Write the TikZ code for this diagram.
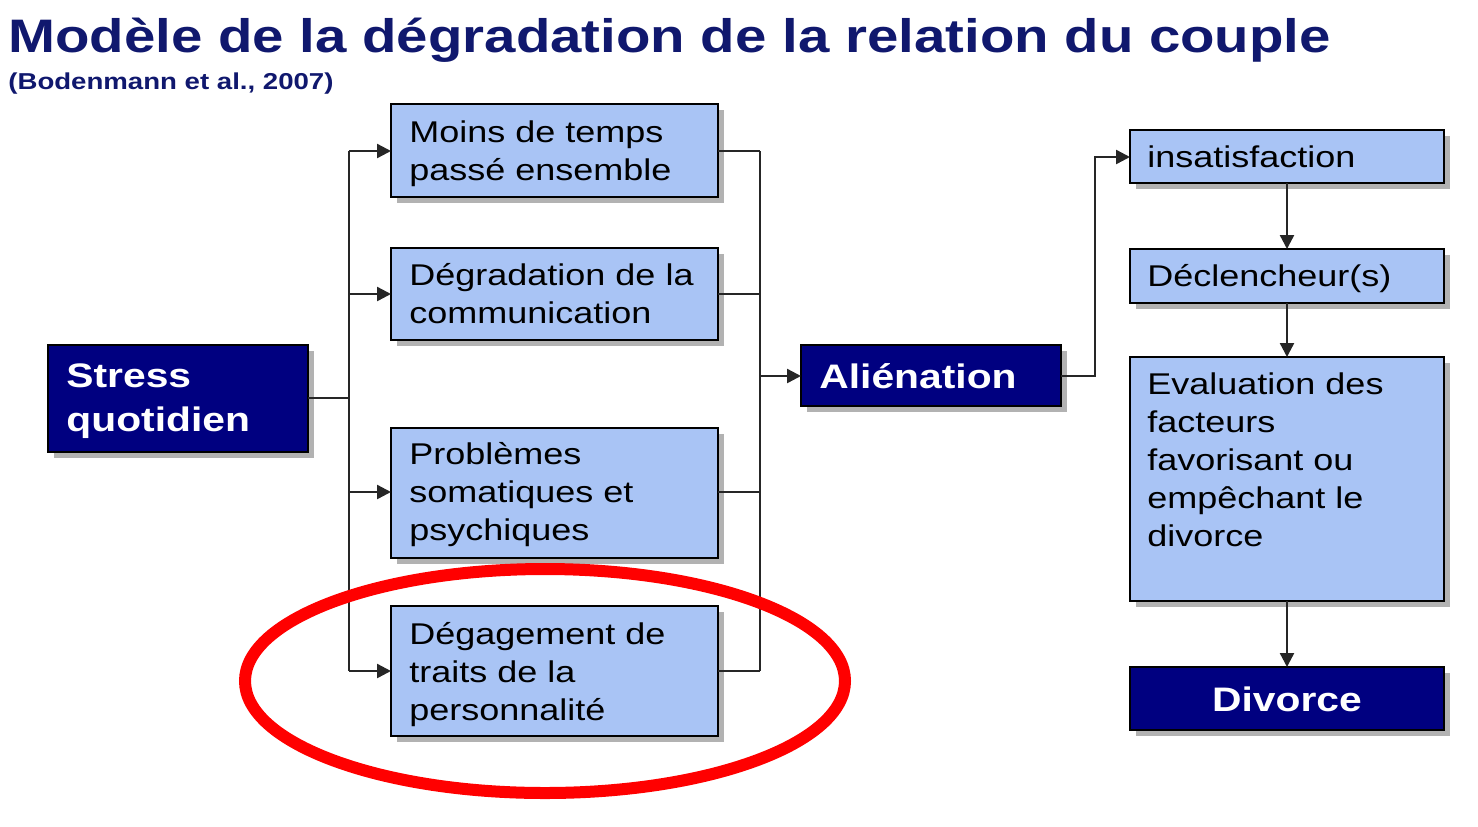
\documentclass[tikz,border=0pt]{standalone}
\usepackage{fontspec}
\setmainfont[FakeStretch=1.2]{Liberation Sans}
\usetikzlibrary{arrows.meta}
\definecolor{navy}{RGB}{0,0,128}
\definecolor{lblue}{RGB}{169,196,245}
\definecolor{tnavy}{RGB}{16,24,110}
\begin{document}
\begin{tikzpicture}[x=0.5pt,y=-0.5pt,
  box/.style={draw=black,line width=1pt,fill=lblue},
  dbox/.style={draw=black,line width=1pt,fill=navy},
  txt/.style={anchor=north west,inner sep=0pt,align=left,font=\fontsize{15}{19}\selectfont},
  dtxt/.style={txt,text=white,font=\bfseries\fontsize{17}{22}\selectfont},
  conn/.style={line width=1.2pt,draw=black!85},
  arr/.style={conn,-{Triangle[length=7pt,width=7pt]}}]
\useasboundingbox (0,0) rectangle (1478,826);
\fill[white] (0,0) rectangle (1478,826);
\node[anchor=base west,inner sep=0pt,text=tnavy,font=\bfseries\fontsize{23.5}{28}\selectfont] (title) at (8,52) {Modèle de la dégradation de la relation du couple};
\node[anchor=base west,inner sep=0pt,text=tnavy,font=\bfseries\fontsize{11.5}{14}\selectfont] (sub) at (8,89) {(Bodenmann et al., 2007)};
% shadows
\foreach \a/\b/\c/\d in {48/345/308/452, 391/104/718/197, 391/248/718/340, 391/428/718/558, 391/606/718/736, 801/345/1061/406, 1130/130/1444/183, 1130/249/1444/303, 1130/357/1444/601, 1130/667/1444/730}
  \fill[black!30] (\a+6,\b+6) rectangle (\c+6,\d+6);
% boxes
\path[dbox] (48,345) rectangle (308,452) node[pos=0.5,inner sep=0pt] (stress) {};
\path[dbox] (801,345) rectangle (1061,406) node[pos=0.5,inner sep=0pt] (alien) {};
\path[dbox] (1130,667) rectangle (1444,730) node[pos=0.5,inner sep=0pt] (div) {};
\path[box] (391,104) rectangle (718,197) node[pos=0.5] (b1) {};
\path[box] (391,248) rectangle (718,340) node[pos=0.5] (b2) {};
\path[box] (391,428) rectangle (718,558) node[pos=0.5] (b3) {};
\path[box] (391,606) rectangle (718,736) node[pos=0.5] (b4) {};
\path[box] (1130,130) rectangle (1444,183) node[pos=0.5] (r1) {};
\path[box] (1130,249) rectangle (1444,303) node[pos=0.5] (r2) {};
\path[box] (1130,357) rectangle (1444,601) node[pos=0.5] (r3) {};
% texts
\node[dtxt] (t0) at (66,363) {Stress\\quotidien};
\node[dtxt] (t5) at (819,363) {Aliénation};
\node[text=white,inner sep=0pt,font=\bfseries\fontsize{17}{22}\selectfont] (t9) at (1287,699) {Divorce};
\node[txt] (t1) at (409,120) {Moins de temps\\passé ensemble};
\node[txt] (t2) at (409,263) {Dégradation de la\\communication};
\node[txt] (t3) at (409,442) {Problèmes\\somatiques et\\psychiques};
\node[txt] (t4) at (409,622) {Dégagement de\\traits de la\\personnalité};
\node[txt] (t6) at (1147,145) {insatisfaction};
\node[txt] (t7) at (1147,264) {Déclencheur(s)};
\node[txt] (t8) at (1147,372) {Evaluation des\\facteurs\\favorisant ou\\empêchant le\\divorce};
% connectors
\coordinate (L) at (349,398);
\draw[conn] (308,398) -- (L);
\draw[conn] (349,151) -- (349,671);
\foreach \y in {151,294,492,671} \draw[arr] (349,\y) -- (391,\y);
\foreach \y in {151,294,492,671} \draw[conn] (718,\y) -- (760,\y);
\draw[conn] (760,151) -- (760,671);
\draw[arr] (760,376) -- (801,376);
\draw[arr] (1061,376) -- (1095,376) -- (1095,157) -- (1130,157);
\draw[arr] (1287,183) -- (1287,249);
\draw[arr] (1287,303) -- (1287,357);
\draw[arr] (1287,601) -- (1287,667);
% red ellipse
\draw[red,line width=6pt] (545,681) ellipse [x radius=300, y radius=112];
\end{tikzpicture}
\end{document}
